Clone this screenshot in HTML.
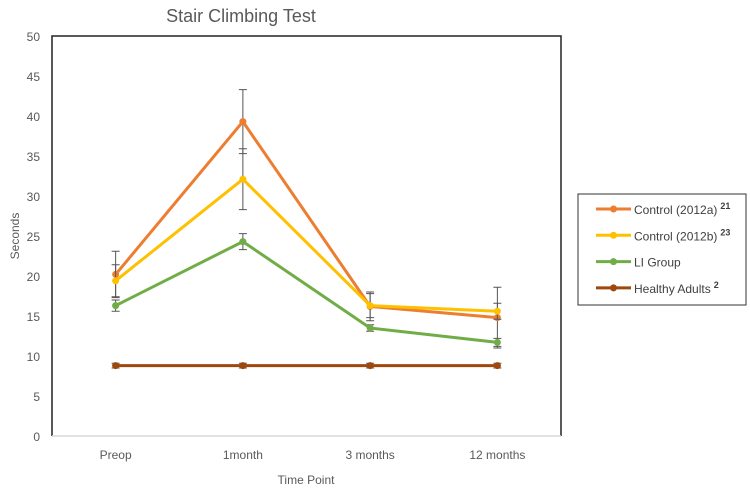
<!DOCTYPE html>
<html><head><meta charset="utf-8"><style>
body{margin:0;background:#fff;font-family:"Liberation Sans",sans-serif}
</style></head><body>
<svg id="c" width="750" height="489" viewBox="0 0 750 489"></svg>
<script>
const categories=["Preop","1month","3 months","12 months"];
const seriesNames=["Control (2012a)","Control (2012b)","LI Group","Healthy Adults"];
const seriesSup=["21","23","","2"];
const ctrlA=[20.2,39.3,16.2,14.8];
const ctrlAErr=[2.9,4.0,1.8,3.8];
const ctrlB=[19.4,32.1,16.3,15.6];
const ctrlBErr=[2.0,3.8,1.5,1.0];
const liGroup=[16.3,24.3,13.5,11.7];
const liErr=[0.7,1.0,0.4,0.5];
const healthy=[8.8,8.8,8.8,8.8];
const healthyErr=[0.3,0.3,0.3,0.3];
const yTicks=[0,5,10,15,20,25,30,35,40,45,50];
const colors=["#ED7D31","#FFC000","#70AD47","#9E480E"];
const series=[ctrlA,ctrlB,liGroup,healthy];
const errs=[ctrlAErr,ctrlBErr,liErr,healthyErr];

const NS="http://www.w3.org/2000/svg";
const svg=document.getElementById('c');
const L=52,R=561,T=36,B=436;
const y=v=>B-(v/50)*(B-T);
const x=i=>L+(R-L)/categories.length*(i+0.5);
function el(t,a,p){const e=document.createElementNS(NS,t);for(const k in a)e.setAttribute(k,a[k]);(p||svg).appendChild(e);return e;}

const title=el('text',{x:241,y:22,'text-anchor':'middle','font-size':18,fill:'#595959'});
title.textContent="Stair Climbing Test";



yTicks.forEach(t=>{
  const tx=el('text',{x:40,y:y(t)+5,'text-anchor':'end','font-size':12,fill:'#595959'});
  tx.textContent=t;
  
  
});
categories.forEach((c,i)=>{
  const tx=el('text',{x:x(i),y:459,'text-anchor':'middle','font-size':12,fill:'#595959'});
  tx.textContent=c;
  
  
});
const yt=el('text',{x:0,y:0,transform:'translate(19,236) rotate(-90)','text-anchor':'middle','font-size':12,fill:'#595959'});
yt.textContent="Seconds";


const xt=el('text',{x:306,y:484,'text-anchor':'middle','font-size':12,fill:'#595959'});
xt.textContent="Time Point";



const frame=el('path',{d:`M${L},${B} V${T} H${R} V${B}`,fill:'none',stroke:'#222','stroke-width':1.5});


const xa=el('line',{x1:L,y1:B,x2:R,y2:B,stroke:'#d9d9d9','stroke-width':1.5});



series.forEach((s,si)=>{
  const g=el('g',{});
  
  
  s.forEach((v,i)=>{
    const e=errs[si][i];
    const eb=el('path',{d:`M${x(i)},${y(v+e)} V${y(v-e)} M${x(i)-4},${y(v+e)} H${x(i)+4} M${x(i)-4},${y(v-e)} H${x(i)+4}`,stroke:'#555','stroke-width':1,fill:'none'},g);
    
    
  });
  const ln=el('polyline',{points:s.map((v,i)=>x(i)+','+y(v)).join(' '),fill:'none',stroke:colors[si],'stroke-width':3,'stroke-linejoin':'round'},g);
  
  
  s.forEach((v,i)=>{
    const p=el('circle',{cx:x(i),cy:y(v),r:3.5,fill:colors[si]},g);
    
    
  });
});

const lg=el('g',{});


el('rect',{x:578,y:194,width:168,height:111,fill:'#fff',stroke:'#333','stroke-width':1},lg);
seriesNames.forEach((n,i)=>{
  const ly=209+i*26.3;
  const ent=el('g',{},lg);
  
  
  el('line',{x1:596,y1:ly,x2:631,y2:ly,stroke:colors[i],'stroke-width':3},ent);
  el('circle',{cx:613.5,cy:ly,r:3.5,fill:colors[i]},ent);
  const t=el('text',{x:634,y:ly+5,'font-size':12,fill:'#404040'},ent);
  t.textContent=n;
  if(seriesSup[i]){
    const sp=el('tspan',{dx:3,dy:-5,'font-size':9,'font-weight':'bold'},t);
    sp.textContent=seriesSup[i];
  }
});
</script>
</body></html>
